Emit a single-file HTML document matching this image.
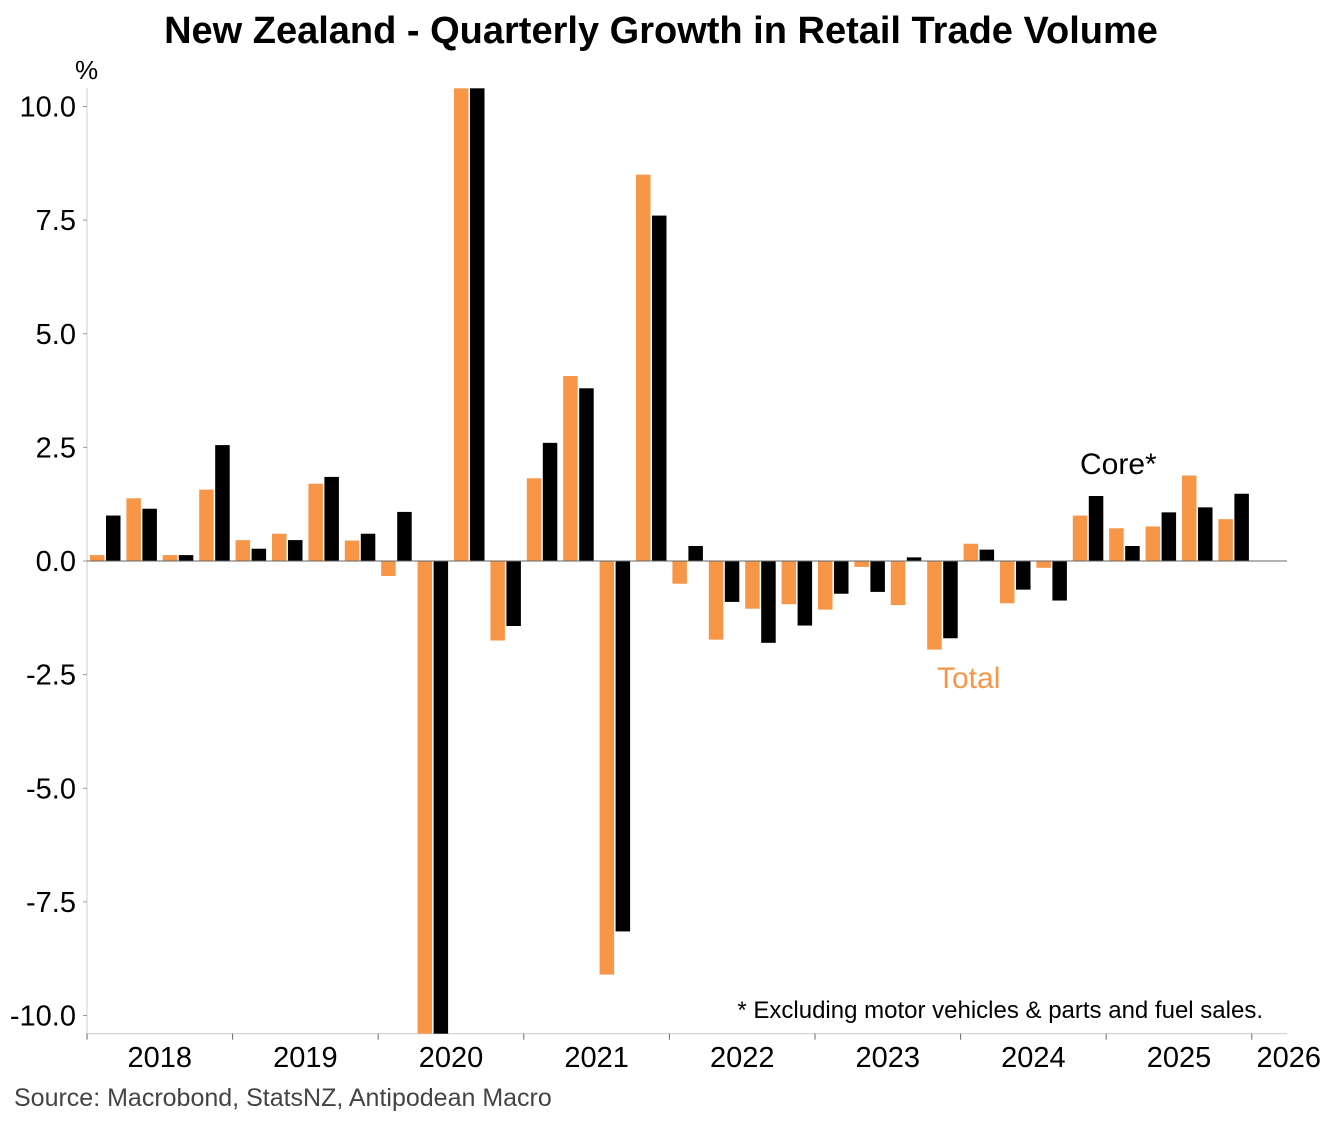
<!DOCTYPE html>
<html><head><meta charset="utf-8"><style>
body{margin:0;background:#fff;}
svg text{font-family:"Liberation Sans",Arial,sans-serif;}
</style></head><body>
<svg id="chart" width="1323" height="1122" xmlns="http://www.w3.org/2000/svg">
<text x="661" y="43" text-anchor="middle" font-size="38" font-weight="bold">New Zealand - Quarterly Growth in Retail Trade Volume</text>
<text x="75" y="79" font-size="26">%</text>
<g id="yticks"></g>
<g id="xticks"></g>
<g id="bars"></g>
<text x="1080" y="474" font-size="30">Core*</text>
<text x="937" y="688" font-size="30" fill="#f79646">Total</text>
<text x="1263" y="1018" text-anchor="end" font-size="24">* Excluding motor vehicles &amp; parts and fuel sales.</text>
<text x="14" y="1106" font-size="25" fill="#444">Source: Macrobond, StatsNZ, Antipodean Macro</text>
</svg>
<script>
const totalValues=[0.13,1.38,0.13,1.57,0.46,0.6,1.7,0.45,-0.33,-10.5,10.5,-1.75,1.82,4.07,-9.1,8.5,-0.5,-1.73,-1.05,-0.95,-1.07,-0.13,-0.97,-1.95,0.38,-0.93,-0.15,1.0,0.72,0.76,1.88,0.92];
const coreValues=[1.0,1.15,0.13,2.55,0.27,0.46,1.85,0.6,1.08,-10.5,10.5,-1.43,2.6,3.8,-8.15,7.6,0.33,-0.9,-1.8,-1.42,-0.72,-0.68,0.08,-1.7,0.25,-0.63,-0.87,1.43,0.33,1.07,1.18,1.48];
const yTickLabels=["10.0","7.5","5.0","2.5","0.0","-2.5","-5.0","-7.5","-10.0"];
const yTickValues=[10,7.5,5,2.5,0,-2.5,-5,-7.5,-10];
const yearLabels=["2018","2019","2020","2021","2022","2023","2024","2025","2026"];
const NS="http://www.w3.org/2000/svg";
const X0=87,X1=1287,Q=36.4,YMAX=10.4,YMIN=-10.4;
const y=v=>561-v*45.45;
const xq=i=>X0+i*Q;
function mk(t,a,p){const e=document.createElementNS(NS,t);for(const k in a)e.setAttribute(k,a[k]);p.appendChild(e);return e;}
const yt=document.getElementById('yticks'),xt=document.getElementById('xticks'),bg=document.getElementById('bars');
mk('line',{x1:X0,x2:X0,y1:y(YMAX),y2:y(YMIN),stroke:'#ccc','stroke-width':1},yt);
yTickValues.forEach((v,i)=>{const t=mk('text',{x:76,y:y(v)+10,'text-anchor':'end','font-size':29},yt);t.textContent=yTickLabels[i];


mk('line',{x1:X0-4,x2:X0,y1:y(v),y2:y(v),stroke:'#999'},yt);});
mk('line',{x1:X0,x2:X1,y1:y(YMIN),y2:y(YMIN),stroke:'#ccc'},xt);
yearLabels.forEach((l,i)=>{const xx=xq(i*4);
mk('line',{x1:xx,x2:xx,y1:y(YMIN),y2:y(YMIN)+6,stroke:'#666'},xt);
const cx=i<yearLabels.length-1?xx+2*Q:xx+37;
const t=mk('text',{x:cx,y:1067,'text-anchor':'middle','font-size':29},xt);t.textContent=l;

});
function clamp(v){return Math.max(YMIN,Math.min(YMAX,v));}
function bar(i,v,off,col,name){const v2=clamp(v);const a=y(Math.max(0,v2)),b=y(Math.min(0,v2));
const r=mk('rect',{x:xq(i)+off,y:a,width:14.5,height:Math.max(0.5,b-a),fill:col},bg);

}
totalValues.forEach((v,i)=>bar(i,v,3,'#f79646','total-bar'));
coreValues.forEach((v,i)=>bar(i,v,19,'#000','core-bar'));
mk('line',{x1:X0,x2:X1,y1:y(0),y2:y(0),stroke:'#666','stroke-width':1},bg);
</script>
</body></html>
